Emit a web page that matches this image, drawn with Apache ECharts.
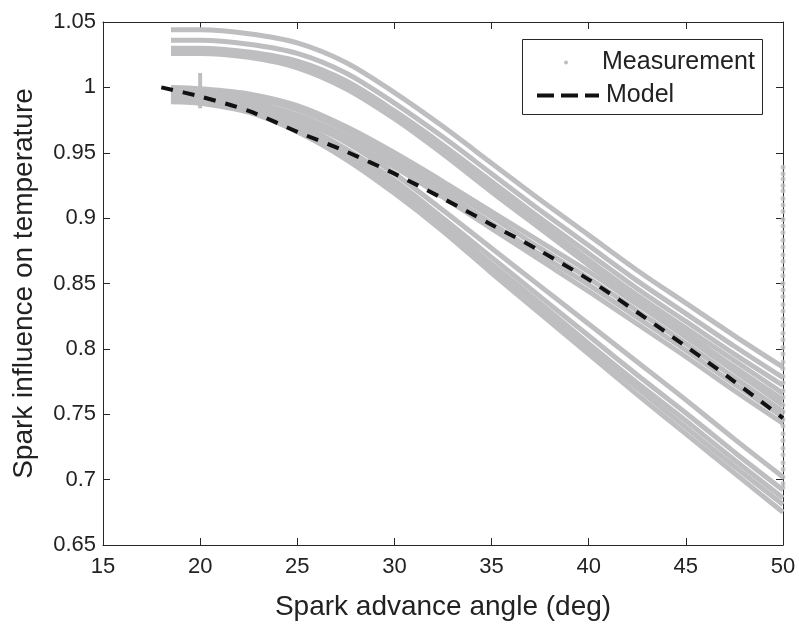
<!DOCTYPE html>
<html>
<head>
<meta charset="utf-8">
<script src="https://cdn.jsdelivr.net/npm/echarts@6/dist/echarts.min.js"></script>
<style>
html,body{margin:0;padding:0;background:#fff;}
#chart{width:799px;height:628px;}
</style>
</head>
<body>
<div id="chart"></div>
<script>
// ---- data ----
const xTicks = [15, 20, 25, 30, 35, 40, 45, 50];
const yTicks = [0.65, 0.7, 0.75, 0.8, 0.85, 0.9, 0.95, 1, 1.05];

// measurement sample angles (deg)
const measX = [18.5, 20, 22.5, 25, 27.5, 30, 32.5, 35, 37.5, 40, 42.5, 45, 47.5, 50];

// upper group of measured curves
const measU1 = [1.044, 1.044, 1.041, 1.034, 1.019, 0.996, 0.970, 0.942, 0.914, 0.887, 0.860, 0.835, 0.810, 0.786];
const measU2 = [1.036, 1.036, 1.033, 1.026, 1.011, 0.988, 0.962, 0.934, 0.906, 0.879, 0.852, 0.827, 0.802, 0.778];
const measU3 = [1.030, 1.030, 1.027, 1.020, 1.005, 0.982, 0.956, 0.928, 0.900, 0.873, 0.846, 0.821, 0.796, 0.772];
const measU4 = [1.028, 1.028, 1.025, 1.017, 1.002, 0.979, 0.952, 0.924, 0.896, 0.868, 0.841, 0.816, 0.791, 0.766];
const measU5 = [1.026, 1.026, 1.023, 1.015, 0.999, 0.976, 0.949, 0.920, 0.892, 0.864, 0.837, 0.812, 0.786, 0.761];

// middle group (around the model)
const measM1 = [1.000, 0.999, 0.995, 0.986, 0.970, 0.950, 0.928, 0.905, 0.882, 0.859, 0.834, 0.809, 0.783, 0.757];
const measM2 = [0.997, 0.996, 0.992, 0.983, 0.967, 0.946, 0.924, 0.901, 0.877, 0.854, 0.829, 0.804, 0.778, 0.752];
const measM3 = [0.993, 0.992, 0.988, 0.979, 0.963, 0.943, 0.920, 0.896, 0.872, 0.849, 0.824, 0.799, 0.773, 0.748];
const measM4 = [0.989, 0.988, 0.984, 0.975, 0.959, 0.939, 0.916, 0.892, 0.868, 0.844, 0.819, 0.794, 0.768, 0.743];

// lower group
const measL1 = [0.998, 0.996, 0.990, 0.977, 0.958, 0.934, 0.906, 0.877, 0.848, 0.819, 0.790, 0.761, 0.731, 0.702];
const measL2 = [0.996, 0.994, 0.987, 0.973, 0.953, 0.929, 0.900, 0.870, 0.840, 0.810, 0.780, 0.751, 0.721, 0.692];
const measL3 = [0.994, 0.992, 0.985, 0.971, 0.950, 0.925, 0.896, 0.865, 0.835, 0.804, 0.774, 0.745, 0.715, 0.686];
const measL4 = [0.992, 0.990, 0.983, 0.968, 0.947, 0.922, 0.893, 0.862, 0.831, 0.800, 0.770, 0.740, 0.710, 0.681];
const measL5 = [0.990, 0.988, 0.981, 0.966, 0.945, 0.919, 0.890, 0.858, 0.827, 0.796, 0.765, 0.735, 0.705, 0.675];

// short vertical burst of samples at 20 deg
const spikeX = [20, 20];
const spikeY = [0.984, 1.011];

// samples piled at the 50 deg limit
const edgeY = [0.939, 0.934, 0.930, 0.925, 0.921, 0.915, 0.910, 0.905, 0.899, 0.894, 0.889, 0.883, 0.878,
  0.872, 0.867, 0.861, 0.856, 0.850, 0.845, 0.840, 0.834, 0.829, 0.823, 0.818, 0.812, 0.807, 0.801,
  0.796, 0.790, 0.785, 0.779, 0.774, 0.768, 0.763, 0.757, 0.752, 0.746, 0.741, 0.735, 0.730, 0.724,
  0.719, 0.713, 0.708, 0.702, 0.697, 0.694];

// model curve
const modelX = [18, 20, 22.5, 25, 27.5, 30, 32.5, 35, 37.5, 40, 42.5, 45, 47.5, 50];
const modelY = [1.000, 0.993, 0.982, 0.966, 0.951, 0.934, 0.915, 0.895, 0.875, 0.853, 0.828, 0.802, 0.775, 0.747];

// ---- chart ----
const FONT = "'Liberation Sans', Arial, Helvetica, sans-serif";
const AX = '#262626';
const GRAY = '#bebec0';

const measGroups = [measU1, measU2, measU3, measU4, measU5, measM1, measM2, measM3, measM4,
  measL1, measL2, measL3, measL4, measL5];

const pair = (xs, ys) => xs.map((x, i) => [x, ys[i]]);

const series = [];
measGroups.forEach(arr => {
  series.push({
    name: 'Measurement', type: 'line', smooth: 0.3, symbol: 'none', silent: true,
    data: pair(measX, arr),
    lineStyle: { color: GRAY, width: 5 }, itemStyle: { color: GRAY }, z: 2
  });
});
series.push({
  name: 'Measurement', type: 'line', symbol: 'none', silent: true,
  data: pair(spikeX, spikeY),
  lineStyle: { color: GRAY, width: 4 }, itemStyle: { color: GRAY }, z: 2
});
series.push({
  name: 'Measurement', type: 'scatter', symbol: 'circle', symbolSize: 5, silent: true, clip: false,
  data: edgeY.map(v => [50, v]),
  itemStyle: { color: GRAY }, z: 2
});
series.push({
  name: 'Model', type: 'line', symbol: 'none', silent: true,
  data: pair(modelX, modelY), smooth: 0.3,
  lineStyle: { color: '#111', width: 4, type: [12, 10] }, itemStyle: { color: '#111' }, z: 5
});

const xMin = xTicks[0], xMax = xTicks[xTicks.length - 1];
const yMin = yTicks[0], yMax = yTicks[yTicks.length - 1];
const axisCommon = {
  axisLine: { show: true, onZero: false, lineStyle: { color: AX, width: 1 } },
  axisTick: { show: true, inside: true, length: 7, lineStyle: { color: AX } },
  splitLine: { show: false }
};

const option = {
  animation: false,
  backgroundColor: '#fff',
  textStyle: { fontFamily: FONT },
  grid: { left: 103, right: 16, top: 22, bottom: 83, containLabel: false },
  xAxis: [
    Object.assign({
      type: 'value', position: 'bottom', min: xMin, max: xMax, interval: 5,
      name: 'Spark advance angle (deg)', nameLocation: 'middle', nameGap: 48,
      nameTextStyle: { fontSize: 28, color: '#222', fontFamily: FONT },
      axisLabel: { fontSize: 22, color: '#222', margin: 11, fontFamily: FONT }
    }, axisCommon),
    Object.assign({
      type: 'value', position: 'top', min: xMin, max: xMax, interval: 5,
      axisLabel: { show: false }
    }, axisCommon)
  ],
  yAxis: [
    Object.assign({
      type: 'value', position: 'left', min: yMin, max: yMax, interval: 0.05,
      name: 'Spark influence on temperature', nameLocation: 'middle', nameGap: 65,
      nameTextStyle: { fontSize: 28, color: '#222', fontFamily: FONT },
      axisLabel: { fontSize: 22, color: '#222', margin: 7, fontFamily: FONT,
        formatter: v => String(+v.toFixed(2)) }
    }, axisCommon),
    Object.assign({
      type: 'value', position: 'right', min: yMin, max: yMax, interval: 0.05,
      axisLabel: { show: false }
    }, axisCommon)
  ],
  legend: [
    {
      data: [{ name: 'Measurement', icon: 'circle' }],
      left: 564, top: 50, itemWidth: 4, itemHeight: 4, itemGap: 0,
      selectedMode: false,
      textStyle: { fontSize: 25, color: '#222', fontFamily: FONT, padding: [0, 0, 0, 29] },
      padding: 0
    },
    {
      data: [{ name: 'Model' }],
      left: 535, top: 83, itemWidth: 62, itemHeight: 14, itemGap: 0,
      selectedMode: false,
      lineStyle: { width: 4, type: [17, 7], color: '#111' },
      itemStyle: { color: 'rgba(0,0,0,0)', borderWidth: 0, borderColor: 'rgba(0,0,0,0)' },
      textStyle: { fontSize: 25, color: '#222', fontFamily: FONT, padding: [0, 0, 0, 2] },
      padding: 0
    }
  ],
  graphic: [
    {
      type: 'rect', left: 522, top: 39, z: 10, silent: true,
      shape: { width: 240, height: 75 },
      style: { fill: 'rgba(0,0,0,0)', stroke: AX, lineWidth: 1 }
    }
  ],
  series: series
};

const chart = echarts.init(document.getElementById('chart'), null, { renderer: 'canvas' });
chart.setOption(option);
</script>
</body>
</html>
